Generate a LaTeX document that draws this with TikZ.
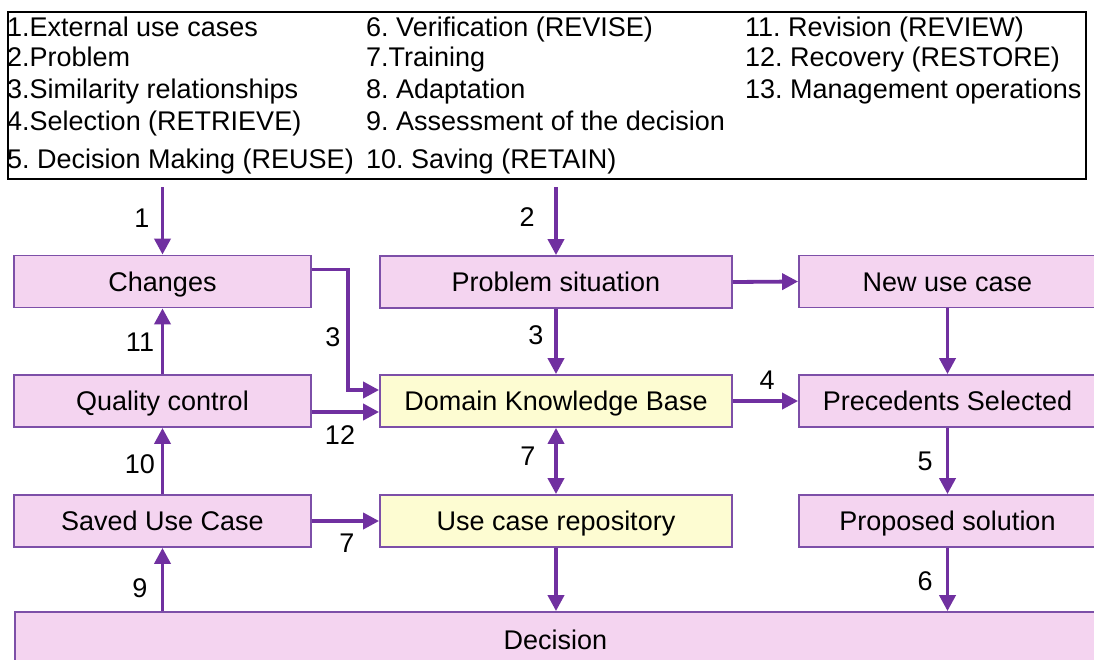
\documentclass[tikz,border=0pt]{standalone}
\usepackage{fontspec}
\setmainfont{Liberation Sans}
\usetikzlibrary{arrows.meta}
\definecolor{flow}{HTML}{7030A0}
\definecolor{boxedge}{HTML}{7D4FA8}
\definecolor{pinkfill}{HTML}{F4D4F0}
\definecolor{yellowfill}{HTML}{FDFCD2}
\frenchspacing
\begin{document}
\begin{tikzpicture}[x=1pt,y=-1pt,
  every node/.style={font=\fontsize{27}{32}\selectfont},
  box/.style={draw=boxedge, line width=1.8pt, fill=pinkfill, inner sep=0pt,
    text height=19.3pt, text depth=0pt, minimum height=52pt},
  sidebox/.style={box, minimum width=297pt},
  midbox/.style={box, minimum width=352pt},
  kb/.style={midbox, fill=yellowfill},
  flowline/.style={draw=flow, line width=3.8pt, -{Triangle[length=16pt,width=16pt]}},
  twoway/.style={draw=flow, line width=3.8pt, {Triangle[length=16pt,width=16pt]}-{Triangle[length=16pt,width=16pt]}},
  num/.style={inner sep=0pt, text height=19.3pt, text depth=0pt},
  legend/.style={anchor=base west, inner sep=0pt}]

\useasboundingbox (0,0) rectangle (1094,659);
\clip (0,0) rectangle (1094,659);

% legend frame and entries
\node[draw=black, line width=1.8pt, fill=white, inner sep=0pt,
  minimum width=1078pt, minimum height=167pt] (legendbox) at (547,95.5) {};
\node[legend] (k1) at (7,36) {1.External use cases};
\node[legend] (k2) at (7,66) {2.Problem};
\node[legend] (k3) at (7,98) {3.Similarity relationships};
\node[legend] (k4) at (7,130) {4.Selection (RETRIEVE)};
\node[legend] (k5) at (7,168) {5. Decision Making (REUSE)};
\node[legend] (k6) at (366,36) {6. Verification (REVISE)};
\node[legend] (k7) at (366,66) {7.Training};
\node[legend] (k8) at (366,98) {8. Adaptation};
\node[legend] (k9) at (366,130) {9. Assessment of the decision};
\node[legend] (k10) at (366,168) {10. Saving (RETAIN)};
\node[legend] (k11) at (745,36) {11. Revision (REVIEW)};
\node[legend] (k12) at (745,66) {12. Recovery (RESTORE)};
\node[legend] (k13) at (745,98) {13. Management operations};

% process boxes
\node[sidebox] (chg) at (162.5,281.5) {Changes};
\node[sidebox] (qc) at (162.5,401) {Quality control};
\node[sidebox] (suc) at (162.5,521) {Saved Use Case};
\node[midbox] (ps) at (556,282) {Problem situation};
\node[kb] (dkb) at (556,401) {Domain Knowledge Base};
\node[kb] (ucr) at (556,521) {Use case repository};
\node[sidebox] (nuc) at (947.5,281.5) {New use case};
\node[sidebox] (pre) at (947.5,401) {Precedents Selected};
\node[sidebox] (prop) at (947.5,521) {Proposed solution};
\node[box, minimum width=1081pt, minimum height=56pt] (dec) at (555.5,640) {Decision};

% incoming flows
\coordinate (in1) at (162.5,187);
\coordinate (in2) at (556,187);
\draw[flowline] (in1) -- (chg.north);
\draw[flowline] (in2) -- (ps.north);

% left column
\draw[flowline] (qc.north) -- (chg.south);
\draw[flowline] (suc.north) -- (qc.south);
\draw[flowline] (dec.north -| suc.south) -- (suc.south);
\draw[flowline] ([yshift=12pt]chg.east) -- ++(36,0) |- ([yshift=11pt]dkb.west);
\draw[flowline] ([yshift=-11pt]qc.east) -- ([yshift=-11pt]dkb.west);
\draw[flowline] (suc.east) -- (ucr.west);

% middle column
\draw[flowline] (ps.south) -- (dkb.north);
\draw[twoway] (dkb.south) -- (ucr.north);
\draw[flowline] (ucr.south) -- (dec.north -| ucr.south);
\draw[flowline] (ps.east) -- (nuc.west);
\draw[flowline] (dkb.east) -- (pre.west);

% right column
\draw[flowline] (nuc.south) -- (pre.north);
\draw[flowline] (pre.south) -- (prop.north);
\draw[flowline] (prop.south) -- (dec.north -| prop.south);

% step numbers
\node[num] (n1) at (142,218) {1};
\node[num] (n2) at (527,217) {2};
\node[num] (n3a) at (333,337) {3};
\node[num] (n3b) at (536,335) {3};
\node[num] (n4) at (767,380) {4};
\node[num] (n11) at (140,342) {11};
\node[num] (n12) at (340,435) {12};
\node[num] (n10) at (140,464) {10};
\node[num] (n9) at (140,588) {9};
\node[num] (n7a) at (347,543) {7};
\node[num] (n7b) at (528,456) {7};
\node[num] (n5) at (925,461) {5};
\node[num] (n6) at (925,581) {6};
\end{tikzpicture}
\end{document}
